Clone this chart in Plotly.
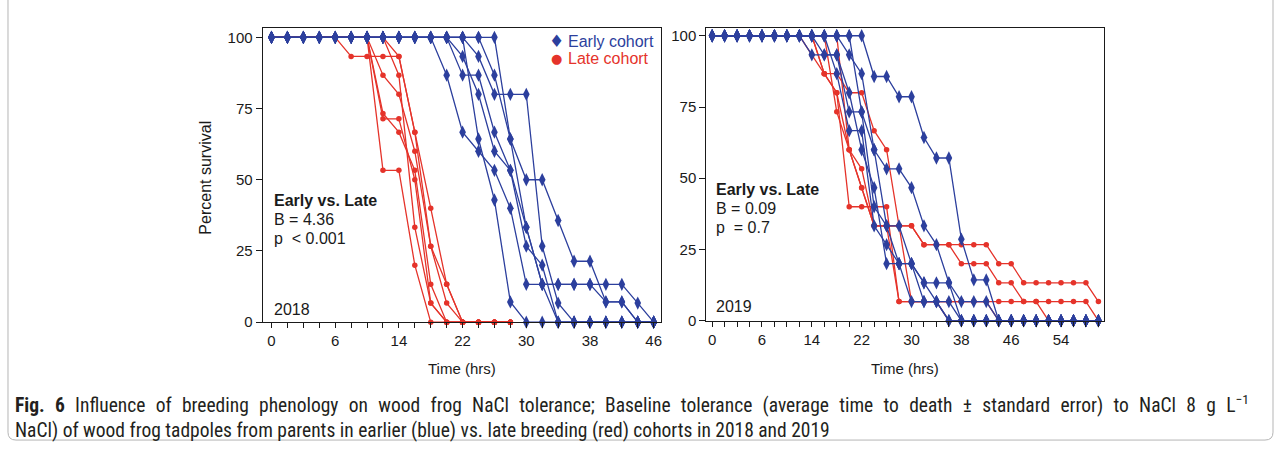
import plotly.graph_objects as go

W, H = 1281, 451
BLUE = "#2c3f9d"
RED = "#e5332a"

# ---------------- data ----------------
# x positions are sampling occasions (index); tick labels give hours
ticks_2018 = [0, 6, 14, 22, 30, 38, 46]
ticks_2019 = [0, 6, 14, 22, 30, 38, 46, 54]

late_2018 = [
    [100, 100, 100, 100, 100, 93.3, 93.3, 93.3, 93.3, 66.7, 40, 13.3, 0, 0, 0, 0],
    [100, 100, 100, 100, 100, 100, 100, 86.7, 80, 60, 26.7, 6.7, 0, 0, 0, 0],
    [100, 100, 100, 100, 100, 100, 100, 73.3, 66.7, 53.3, 13.3, 0, 0, 0, 0, 0],
    [100, 100, 100, 100, 100, 100, 100, 71.4, 71.4, 50, 6.7, 0, 0, 0, 0, 0],
    [100, 100, 100, 100, 100, 100, 100, 53.3, 53.3, 20, 0, 0, 0, 0, 0, 0],
    [100, 100, 100, 100, 100, 100, 100, 100, 93.3, 66.7, 26.7, 13.3, 0, 0, 0, 0],
    [100, 100, 100, 100, 100, 100, 100, 100, 86.7, 33.3, 6.7, 0, 0, 0, 0, 0],
]

early_2018 = [
    [100, 100, 100, 100, 100, 100, 100, 100, 100, 100, 100, 100, 100, 93.3, 80, 80, 80, 26.7, 6.7, 0, 0, 0, 0, 0, 0],
    [100, 100, 100, 100, 100, 100, 100, 100, 100, 100, 100, 100, 100, 100, 100, 64.3, 50, 50, 35.7, 21.4, 21.4, 7.1, 7.1, 0, 0],
    [100, 100, 100, 100, 100, 100, 100, 100, 100, 100, 100, 86.7, 66.7, 60, 53.3, 40, 13.3, 13.3, 13.3, 13.3, 13.3, 13.3, 13.3, 6.7, 0],
    [100, 100, 100, 100, 100, 100, 100, 100, 100, 100, 100, 100, 86.7, 86.7, 66.7, 53.3, 33.3, 13.3, 0, 0, 0, 0, 0, 0, 0],
    [100, 100, 100, 100, 100, 100, 100, 100, 100, 100, 100, 100, 100, 64.3, 42.9, 7.1, 0, 0, 0, 0, 0, 0, 0, 0, 0],
    [100, 100, 100, 100, 100, 100, 100, 100, 100, 100, 100, 100, 93.3, 80, 60, 53.3, 26.7, 20, 0, 0, 0, 0, 0, 0, 0],
    [100, 100, 100, 100, 100, 100, 100, 100, 100, 100, 100, 100, 100, 100, 86.7, 64.3, 33.3, 13.3, 13.3, 13.3, 13.3, 7.1, 7.1, 0, 0],
]

late_2019 = [
    [100, 100, 100, 100, 100, 100, 100, 100, 93.3, 86.7, 80, 60, 46.7, 33.3, 33.3, 33.3, 33.3, 26.7, 26.7, 26.7, 26.7, 26.7, 26.7, 20, 20, 13.3, 13.3, 13.3, 13.3, 13.3, 13.3, 6.7],
    [100, 100, 100, 100, 100, 100, 100, 100, 100, 86.7, 80, 40, 40, 40, 40, 6.7, 6.7, 6.7, 6.7, 6.7, 6.7, 6.7, 6.7, 6.7, 6.7, 6.7, 6.7, 0, 0, 0, 0, 0],
    [100, 100, 100, 100, 100, 100, 100, 100, 100, 86.7, 86.7, 80, 80, 66.7, 60, 33.3, 33.3, 26.7, 26.7, 26.7, 20, 20, 20, 13.3, 13.3, 6.7, 6.7, 6.7, 6.7, 6.7, 6.7, 0],
    [100, 100, 100, 100, 100, 100, 100, 100, 100, 100, 73.3, 60, 53.3, 33.3, 33.3, 6.7, 6.7, 6.7, 6.7, 0, 0, 0, 0, 0, 0, 0, 0, 0, 0, 0, 0, 0],
    [100, 100, 100, 100, 100, 100, 100, 100, 100, 100, 100, 60, 46.7, 33.3, 33.3, 33.3, 6.7, 6.7, 6.7, 6.7, 6.7, 6.7, 6.7, 0, 0, 0, 0, 0, 0, 0, 0, 0],
]

early_2019 = [
    [100, 100, 100, 100, 100, 100, 100, 100, 100, 100, 100, 100, 100, 85.7, 85.7, 78.6, 78.6, 64.3, 57.1, 57.1, 28.6, 14.3, 14.3, 0, 0, 0, 0, 0, 0, 0, 0, 0],
    [100, 100, 100, 100, 100, 100, 100, 100, 93.3, 93.3, 93.3, 80, 60, 46.7, 20, 20, 20, 6.7, 6.7, 6.7, 0, 0, 0, 0, 0, 0, 0, 0, 0, 0, 0, 0],
    [100, 100, 100, 100, 100, 100, 100, 100, 100, 100, 100, 93.3, 86.7, 60, 53.3, 53.3, 46.7, 33.3, 26.7, 13.3, 6.7, 6.7, 6.7, 0, 0, 0, 0, 0, 0, 0, 0, 0],
    [100, 100, 100, 100, 100, 100, 100, 100, 100, 93.3, 93.3, 73.3, 73.3, 40, 33.3, 33.3, 20, 13.3, 13.3, 13.3, 0, 0, 0, 0, 0, 0, 0, 0, 0, 0, 0, 0],
    [100, 100, 100, 100, 100, 100, 100, 100, 100, 100, 86.7, 66.7, 66.7, 33.3, 26.7, 20, 6.7, 6.7, 6.7, 0, 0, 0, 0, 0, 0, 0, 0, 0, 0, 0, 0, 0],
    [100, 100, 100, 100, 100, 100, 100, 100, 100, 100, 100, 100, 73.3, 60, 33.3, 20, 20, 13.3, 6.7, 0, 0, 0, 0, 0, 0, 0, 0, 0, 0, 0, 0, 0],
]

stats_2018 = ["<b>Early vs. Late</b>", "B = 4.36", "p  < 0.001"]
stats_2019 = ["<b>Early vs. Late</b>", "B = 0.09", "p  = 0.7"]

# ---------------- helpers ----------------
def fx(x):
    return x / W

def fy(y):
    return 1 - y / H

FONT = "Liberation Sans, Arial, sans-serif"
INK = "#1a1a1a"

fig = go.Figure()

def add_lines(series, color, xa, ya, symbol, size):
    for s in series:
        fig.add_trace(go.Scatter(
            x=list(range(len(s))), y=s, mode="lines+markers",
            line=dict(color=color, width=1.3),
            marker=dict(color=color, symbol=symbol, size=size, line=dict(width=0)),
            xaxis=xa, yaxis=ya, showlegend=False, cliponaxis=False,
        ))

add_lines(late_2018, RED, "x", "y", "circle", 5.5)
add_lines(early_2018, BLUE, "x", "y", "diamond-tall", 9.5)
add_lines(late_2019, RED, "x2", "y2", "circle", 5.5)
add_lines(early_2019, BLUE, "x2", "y2", "diamond-tall", 9.5)

tickfont = dict(family=FONT, size=15, color=INK)

def xaxis_cfg(dom, rng, labels):
    return dict(domain=dom, range=rng,
                tickvals=[4 * k for k in range(len(labels))],
                ticktext=[str(v) for v in labels],
                ticks="outside", ticklen=5, tickwidth=1, tickcolor=INK,
                minor=dict(tick0=0, dtick=1, ticks="outside", ticklen=5,
                           tickwidth=1, tickcolor=INK),
                showline=True, linecolor=INK, linewidth=1.3, mirror=True,
                showgrid=False, zeroline=False, tickfont=tickfont)

def yaxis_cfg(dom, rng, anchor):
    return dict(domain=dom, range=rng, tickvals=[0, 25, 50, 75, 100], ticks="outside",
                ticklen=6, tickwidth=1, tickcolor=INK, showline=True,
                linecolor=INK, linewidth=1.3, mirror=True, showgrid=False,
                zeroline=False, tickfont=tickfont, anchor=anchor)

fig.update_layout(
    width=W, height=H, margin=dict(l=0, r=0, t=0, b=0),
    paper_bgcolor="white", plot_bgcolor="white",
    xaxis=xaxis_cfg([fx(263), fx(662)], [-0.546, 24.49], ticks_2018) | dict(anchor="y"),
    yaxis=yaxis_cfg([fy(328), fy(29)], [0, 103.1], "x"),
    xaxis2=xaxis_cfg([fx(707), fx(1105)], [-0.457, 31.46], ticks_2019) | dict(anchor="y2"),
    yaxis2=yaxis_cfg([fy(326.5), fy(28)], [0, 102.9], "x2"),
    showlegend=False,
)

ann = []
def text(x, y, t, size=16, color=INK, xanchor="left", angle=0, family=FONT):
    ann.append(dict(x=fx(x), y=fy(y), xref="paper", yref="paper", text=t, showarrow=False,
                    xanchor=xanchor, yanchor="middle", textangle=angle,
                    font=dict(family=family, size=size, color=color)))

# stats text
for k, t in enumerate(stats_2018):
    text(272, 204 + 19.3 * k, t)
text(272, 315, "2018")
for k, t in enumerate(stats_2019):
    text(715, 193 + 19.3 * k, t)
text(715, 312, "2019")

# axis titles
text(462.5, 375, "Time (hrs)", size=15, xanchor="center")
text(906, 375, "Time (hrs)", size=15, xanchor="center")
text(206, 181, "Percent survival", size=16, xanchor="center", angle=-90)

# legend
text(557, 42, "\u2666", size=17, color=BLUE, xanchor="center", family="DejaVu Sans")
text(566, 42, "Early cohort", size=16, color=BLUE)
text(557, 60, "\u25CF", size=13, color=RED, xanchor="center", family="DejaVu Sans")
text(566, 60, "Late cohort", size=16, color=RED)

# caption
CAP = "Roboto Condensed, Liberation Sans Narrow, sans-serif"
text(13, 411, "<span style='word-spacing:5.8px'><b>Fig. 6</b> Influence of breeding phenology on wood frog NaCl tolerance; "
     "Baseline tolerance (average time to death \u00b1 standard error) to NaCl 8 g L<sup>\u22121</sup></span>",
     size=19.5, color="#231f20", family=CAP)
text(13, 438, "NaCl) of wood frog tadpoles from parents in earlier (blue) vs. late breeding (red) cohorts in 2018 and 2019",
     size=19.5, color="#231f20", family=CAP)

fig.update_layout(annotations=ann)

# outer rounded border
r = 8
x0, x1, y1 = 8, 1274, 448
path = (f"M {fx(x0)} {fy(-2)} L {fx(x0)} {fy(y1 - r)} Q {fx(x0)} {fy(y1)} {fx(x0 + r)} {fy(y1)} "
        f"L {fx(x1 - r)} {fy(y1)} Q {fx(x1)} {fy(y1)} {fx(x1)} {fy(y1 - r)} L {fx(x1)} {fy(-2)}")
fig.add_shape(type="path", path=path, xref="paper", yref="paper",
              line=dict(color="#b5b5b5", width=1))

fig.write_html("out.html", config={"displayModeBar": False},
               post_script="document.body.style.margin='0px';")
